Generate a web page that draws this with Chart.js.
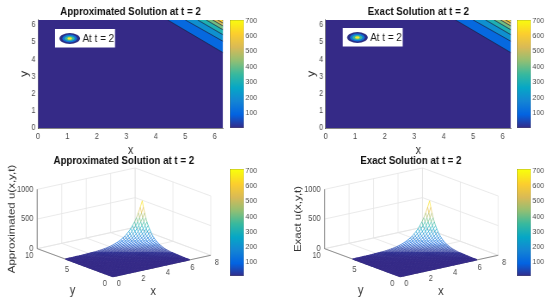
<!DOCTYPE html>
<html>
<head>
<meta charset="utf-8">
<script src="https://cdn.jsdelivr.net/npm/chart.js@4/dist/chart.umd.min.js"></script>
<style>
  body { margin: 0; background: #fff; }
  #page { position: relative; width: 550px; height: 307px; overflow: hidden; }
  canvas { position: absolute; transform-origin: 0 0; }
</style>
</head>
<body>
<div id="page"></div>
<script>
// values
const titles = ["Approximated Solution at t = 2", "Exact Solution at t = 2"];
const zLabels = ["Approximated u(x,y,t)", "Exact u(x,y,t)"];
const legendText = "At t = 2";

// contour lines: level, where it meets the top edge (x) and the right edge (y)
const contourLevels = [100, 200, 300, 400, 500, 600, 700];
const contourTopX = [4.4, 5.0, 5.42, 5.71, 5.93, 6.1, 6.25];
const contourRightY = [4.38, 5.04, 5.42, 5.71, 5.93, 6.1, 6.25];
const domainMax = 6.283;

const contourXTicks = [0, 1, 2, 3, 4, 5, 6];
const contourYTicks = [0, 1, 2, 3, 4, 5, 6];
const colorbarTicks = [100, 200, 300, 400, 500, 600, 700];
const colorbarTopRange = [1, 702];
const colorbarBottomRange = [5, 713];

// 3d box ticks
const boxXTicks = [0, 2, 4, 6, 8];
const boxYTicks = [0, 5, 10];
const boxZTicks = [0, 500, 1000];

// surface height by grid diagonal (i + j), 41 x 41 mesh over the domain
const surfaceHeights = [
  0, 0, 0, 0, 0, 0, 0, 0, 0, 0,
  0, 0, 0, 0, 0, 0, 0, 0, 0, 0,
  0.1, 0.1, 0.1, 0.1, 0.1, 0.12, 0.14, 0.17, 0.2, 0.23,
  0.27, 0.31, 0.37, 0.43, 0.5, 0.59, 0.69, 0.81, 0.95, 1.1,
  1.3, 1.5, 1.8, 2.1, 2.5, 2.9, 3.4, 3.9, 4.6, 5.4,
  6.3, 7.4, 8.6, 10, 12, 14, 16, 19, 22, 26,
  30, 35, 41, 48, 57, 66, 78, 91, 106, 124,
  146, 170, 199, 233, 273, 319, 373, 437, 511, 598,
  700
];
const meshCells = 40;

const parula = ["#352a87", "#0363e1", "#1485d4", "#06a7c6", "#38b99e", "#92bf73", "#d9ba56", "#fcce2e", "#f9fb0e"];

const fontFamily = "'Liberation Sans', Arial, sans-serif";
const tickColor = "#4a4a4a";
const gridColor = "#e4e4e4";

// the picture is squeezed sideways, so each canvas is drawn wider and scaled back
const squeeze = 0.86;
const wide = v => v / squeeze;

function hexToRgb(h) {
  return [1, 3, 5].map(i => parseInt(h.substr(i, 2), 16));
}

// colour for a value on the 0-700 colour range
function colorFor(v) {
  let t = Math.min(Math.max(v / 700, 0), 1) * (parula.length - 1);
  let i = Math.min(Math.floor(t), parula.length - 2);
  let a = hexToRgb(parula[i]), b = hexToRgb(parula[i + 1]);
  let f = t - i;
  return "rgb(" + a.map((c, k) => Math.round(c + (b[k] - c) * f)).join(",") + ")";
}

function addCanvas(left, top, w, h) {
  const c = document.createElement("canvas");
  c.width = Math.round(wide(w));
  c.height = h;
  c.style.left = left + "px";
  c.style.top = top + "px";
  c.style.transform = "scaleX(" + squeeze + ")";
  document.getElementById("page").appendChild(c);
  return c;
}

// white legend box with the little contour icon
function legendPlugin(boxTop) {
  return {
    id: "contourLegend",
    afterDraw(chart) {
      const c = chart.ctx;
      const left = chart.chartArea.left + wide(17);
      c.save();
      c.fillStyle = "#fff";
      c.fillRect(left, boxTop, wide(60), 18.5);
      const cx = left + wide(14.7), cy = boxTop + 9.5;
      [[10.3, 5.4, "#2a2f86"], [7.4, 3.9, "#0f74d8"], [5, 2.6, "#38b99e"], [2.4, 1.3, "#f9e82a"]].forEach(e => {
        c.fillStyle = e[2];
        c.beginPath();
        c.ellipse(cx, cy, wide(e[0]), e[1], 0, 0, Math.PI * 2);
        c.fill();
      });
      c.fillStyle = "#1a1a1a";
      c.font = "11.5px " + fontFamily;
      c.textBaseline = "middle";
      c.fillText(legendText, left + wide(27.5), cy + 0.5);
      c.restore();
    }
  };
}

// top row contour plot
function contourChart(left, plotLeft, plotRight, title, boxTop) {
  const canvas = addCanvas(left, 0, plotRight + 4, 160);

  const datasets = [];
  // first dataset is painted last, so the highest level goes first
  for (let i = contourLevels.length - 1; i >= 0; i--) {
    datasets.push({
      data: [{ x: contourTopX[i], y: domainMax }, { x: domainMax, y: contourRightY[i] }],
      showLine: true,
      fill: "end",
      backgroundColor: colorFor(contourLevels[i] * 1.02),
      borderColor: "#1c1c3c",
      borderWidth: 0.7,
      pointRadius: 0
    });
  }
  datasets.push({
    data: [{ x: 0, y: 0 }, { x: domainMax, y: 0 }],
    showLine: true, fill: "end", backgroundColor: parula[0], borderWidth: 0, pointRadius: 0
  });

  new Chart(canvas, {
    type: "scatter",
    data: { datasets: datasets },
    options: {
      responsive: false,
      animation: false,
      layout: { padding: { left: wide(plotLeft - 28), right: wide(4), top: 0, bottom: 0 } },
      plugins: {
        legend: { display: false },
        tooltip: { enabled: false },
        title: {
          display: true, text: title, fullSize: false, color: "#111",
          font: { family: fontFamily, size: 11.3, weight: "bold" },
          padding: { top: 4.8, bottom: 1.6 }
        }
      },
      scales: {
        x: {
          type: "linear", min: 0, max: domainMax,
          afterBuildTicks: s => { s.ticks = contourXTicks.map(v => ({ value: v })); },
          afterFit: s => { s.height = 32; },
          grid: { display: false, drawTicks: false },
          border: { color: "#333", width: 0.6 },
          ticks: { color: tickColor, padding: 4, maxRotation: 0, font: { family: fontFamily, size: 8.5 } },
          title: { display: true, text: "x", color: "#333", padding: { top: 0, bottom: 2 }, font: { family: fontFamily, size: 12.5 } }
        },
        y: {
          type: "linear", min: 0, max: domainMax,
          afterBuildTicks: s => { s.ticks = contourYTicks.map(v => ({ value: v })); },
          afterFit: s => { s.width = wide(28); },
          grid: { display: false, drawTicks: false },
          border: { color: "#333", width: 0.6 },
          ticks: { color: tickColor, padding: 3, font: { family: fontFamily, size: 8.5 } },
          title: { display: true, text: "y", color: "#333", padding: { top: 9, bottom: 0 }, font: { family: fontFamily, size: 12.5 } }
        }
      }
    },
    plugins: [legendPlugin(boxTop)]
  });
}

// vertical colour scale next to each plot
function colorbarChart(left, top, plotTop, plotBottom, range) {
  const canvas = addCanvas(left, top, 44, plotBottom - top + 8);
  new Chart(canvas, {
    type: "bar",
    data: {
      labels: [""],
      datasets: [{
        data: [range],
        barPercentage: 1,
        categoryPercentage: 1,
        borderColor: "#6b6b4a",
        borderWidth: 0.6,
        borderSkipped: false,
        backgroundColor: ctx => {
          const a = ctx.chart.chartArea;
          if (!a) return parula[0];
          const scale = ctx.chart.scales.y;
          const g = ctx.chart.ctx.createLinearGradient(0, scale.getPixelForValue(0), 0, scale.getPixelForValue(700));
          parula.forEach((p, i) => g.addColorStop(i / (parula.length - 1), p));
          return g;
        }
      }]
    },
    options: {
      responsive: false,
      animation: false,
      layout: { padding: { left: 0, right: 0, top: plotTop - top, bottom: 8 } },
      plugins: { legend: { display: false }, tooltip: { enabled: false } },
      scales: {
        x: { display: false },
        y: {
          position: "right", min: range[0], max: range[1],
          afterBuildTicks: s => { s.ticks = colorbarTicks.map(v => ({ value: v })); },
          afterFit: s => { s.width = wide(30); },
          grid: { display: false, drawTicks: false },
          border: { display: false },
          ticks: { color: tickColor, padding: 2, font: { family: fontFamily, size: 8 } }
        }
      }
    }
  });
}

// bottom row 3d surface, drawn as a coloured mesh on projected coordinates
function surfaceChart(left, width, originX, title, zLabel, labelPos) {
  const canvas = addCanvas(left, 150, width, 157);
  const originY = 126.7;

  function project(x, y, z) {
    return {
      x: wide(originX + x * 12.25 - y * 7.57),
      y: originY - x * 2.675 - y * 2.8 - z * 0.0593
    };
  }

  const datasets = [];
  function addLine(points, color, w) {
    datasets.push({ data: points, showLine: true, borderColor: color, borderWidth: w, pointRadius: 0, fill: false });
  }

  // mesh first so it is painted over the box, one dataset per grid row and column
  const h = domainMax / meshCells;
  function segmentHeight(ctx) {
    const d = ctx.chart.data.datasets[ctx.datasetIndex].data;
    return (d[ctx.p0DataIndex].u + d[ctx.p1DataIndex].u) / 2;
  }
  const meshSegment = {
    borderColor: ctx => colorFor(segmentHeight(ctx)),
    // thin lines on the steep part so the white shows through there
    borderWidth: ctx => (segmentHeight(ctx) < 15 ? 1.1 : 0.65)
  };
  for (let i = 0; i <= meshCells; i++) {
    const row = [], col = [];
    for (let j = 0; j <= meshCells; j++) {
      const u = surfaceHeights[i + j];
      row.push(Object.assign(project(j * h, i * h, u), { u: u }));
      col.push(Object.assign(project(i * h, j * h, u), { u: u }));
    }
    [row, col].forEach(line => {
      datasets.push({ data: line, showLine: true, borderWidth: 1.1, pointRadius: 0, fill: false, segment: meshSegment });
    });
  }

  // axis lines
  addLine([project(0, 10, 0), project(0, 0, 0), project(8, 0, 0)], "#666", 0.7);
  addLine([project(0, 10, 1000), project(0, 10, 0)], "#999", 0.7);

  // walls and floor
  boxXTicks.forEach(v => {
    addLine([project(v, 0, 0), project(v, 10, 0), project(v, 10, 1000)], gridColor, 0.8);
  });
  boxYTicks.forEach(v => {
    addLine([project(0, v, 0), project(8, v, 0), project(8, v, 1000)], gridColor, 0.8);
  });
  boxZTicks.forEach(v => {
    addLine([project(0, 10, v), project(8, 10, v), project(8, 0, v)], gridColor, 0.8);
  });

  const textPlugin = {
    id: "boxLabels",
    afterDraw(chart) {
      const c = chart.ctx, sx = chart.scales.x, sy = chart.scales.y;
      function label(p, dx, dy, text, align) {
        c.textAlign = align || "center";
        c.fillText(text, sx.getPixelForValue(p.x) + wide(dx), sy.getPixelForValue(p.y) + dy);
      }
      c.save();
      c.textBaseline = "middle";
      c.fillStyle = tickColor;
      c.font = "8.5px " + fontFamily;
      boxXTicks.forEach(v => label(project(v, 0, 0), 6, 7, String(v)));
      boxYTicks.forEach(v => label(project(0, v, 0), -8, 7, String(v)));
      boxZTicks.forEach(v => label(project(0, 10, v), -4, 0, String(v), "right"));

      c.fillStyle = "#333";
      c.font = "12.5px " + fontFamily;
      label({ x: wide(labelPos.xx), y: 141.5 }, 0, 0, "x");
      label({ x: wide(labelPos.yx), y: 141 }, 0, 0, "y");
      c.translate(wide(labelPos.zx), 69);
      c.rotate(-Math.PI / 2);
      c.textAlign = "center";
      c.font = "11.5px " + fontFamily;
      c.fillText(zLabel, 0, 0);
      c.restore();
    }
  };

  new Chart(canvas, {
    type: "scatter",
    data: { datasets: datasets },
    options: {
      responsive: false,
      animation: false,
      datasets: { scatter: { clip: false } },
      layout: { padding: 0 },
      plugins: {
        legend: { display: false },
        tooltip: { enabled: false },
        title: {
          display: true, text: title, fullSize: false, color: "#111",
          font: { family: fontFamily, size: 11.3, weight: "bold" },
          padding: { top: 4.2, bottom: 2.2 }
        }
      },
      scales: {
        x: { display: false, min: 0, max: wide(width) },
        y: { display: false, min: 20, max: 157, reverse: true }
      }
    },
    plugins: [textPlugin]
  });
}

contourChart(0, 38, 223, titles[0], 29);
contourChart(275, 50.7, 236, titles[1], 28);
colorbarChart(230, 0, 20, 128, colorbarTopRange);
colorbarChart(517, 0, 20, 128, colorbarTopRange);
surfaceChart(0, 248, 113, titles[0], zLabels[0], { xx: 153.3, yx: 72.7, zx: 11.7 });
surfaceChart(275, 272, 125.3, titles[1], zLabels[1], { xx: 166, yx: 85.7, zx: 23 });
colorbarChart(230, 150, 169, 276.7, colorbarBottomRange);
colorbarChart(517, 150, 169, 276.7, colorbarBottomRange);
</script>
</body>
</html>
